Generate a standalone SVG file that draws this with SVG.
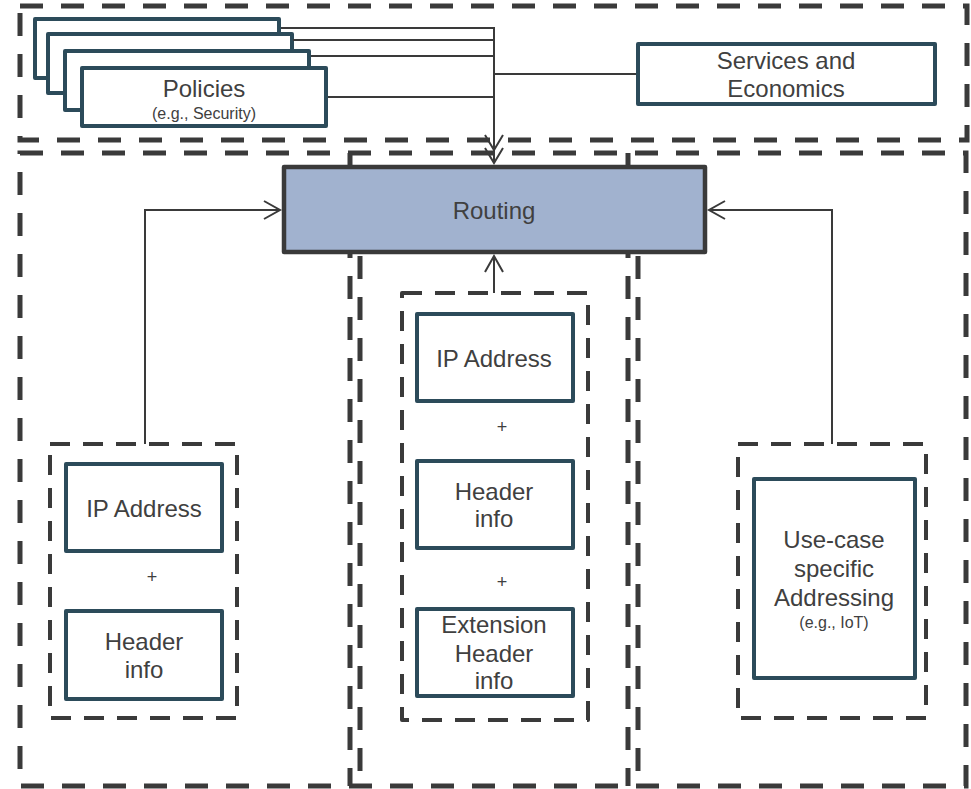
<svg xmlns="http://www.w3.org/2000/svg" width="971" height="789" viewBox="0 0 971 789">
<style>
.big{fill:none;stroke:#3a3a3a;stroke-width:5;stroke-dasharray:23 18}
.inner{fill:none;stroke:#3a3a3a;stroke-width:4;stroke-dasharray:20 13;stroke-linejoin:round}
.box{fill:#fff;stroke:#2c4b5a;stroke-width:4;stroke-linejoin:round}
.conn{fill:none;stroke:#3a3a3a;stroke-width:2}
text{font-family:"Liberation Sans",Arial,sans-serif;fill:#404040;text-anchor:middle}
.t{font-size:24px}
.s{font-size:16px}
.p{font-size:18px}
</style>
<rect width="971" height="789" fill="#fff"/>
<g id="frames">
<rect class="big" x="20" y="6" width="947" height="134"/>
<rect class="big" x="20" y="153" width="946" height="633"/>
<line class="big" x1="350" y1="153" x2="350" y2="786"/>
<line class="big" x1="360" y1="256" x2="360" y2="786"/>
<line class="big" x1="628" y1="153" x2="628" y2="786"/>
<line class="big" x1="638" y1="256" x2="638" y2="786"/>
</g>
<g id="policies">
<rect class="box" x="35" y="19" width="244" height="59"/>
<rect class="box" x="48" y="34" width="244" height="59"/>
<rect class="box" x="65" y="51" width="244" height="59"/>
<rect class="box" x="82" y="68" width="244" height="58"/>
<text class="t" x="204" y="97">Policies</text>
<text class="s" x="204" y="119">(e.g., Security)</text>
</g>
<g id="services">
<rect class="box" x="638" y="44" width="297" height="60"/>
<text class="t" x="786" y="69">Services and</text>
<text class="t" x="786" y="97">Economics</text>
</g>
<g id="connectors">
<polyline class="conn" points="281,28 494,28 494,163"/>
<line class="conn" x1="293" y1="40" x2="494" y2="40"/>
<line class="conn" x1="311" y1="56" x2="494" y2="56"/>
<line class="conn" x1="328" y1="97" x2="494" y2="97"/>
<line class="conn" x1="494" y1="74" x2="636" y2="74"/>
<polyline class="conn" points="485,135 494,150 503,135"/>
<polyline class="conn" points="485,148 494,163 503,148"/>
<polyline class="conn" points="145,444 145,210 280,210"/>
<polyline class="conn" points="264,201 280,210 264,219"/>
<polyline class="conn" points="832,444 832,210 709,210"/>
<polyline class="conn" points="725,201 709,210 725,219"/>
<line class="conn" x1="494" y1="293" x2="494" y2="256"/>
<polyline class="conn" points="485,272 494,256 503,272"/>
</g>
<g id="routing">
<rect x="284" y="167" width="421" height="85" fill="#a1b2cf" stroke="#3a3a3a" stroke-width="4.5" stroke-linejoin="round"/>
<text class="t" x="494" y="219">Routing</text>
</g>
<g id="left-group">
<rect class="inner" x="50" y="444" width="187" height="274"/>
<rect class="box" x="66" y="464" width="156" height="87"/>
<text class="t" x="144" y="517">IP Address</text>
<text class="p" x="152" y="583">+</text>
<rect class="box" x="66" y="611" width="156" height="88"/>
<text class="t" x="144" y="650">Header</text>
<text class="t" x="144" y="678">info</text>
</g>
<g id="middle-group">
<rect class="inner" x="402" y="293" width="186" height="427"/>
<rect class="box" x="417" y="314" width="156" height="87"/>
<text class="t" x="494" y="367">IP Address</text>
<text class="p" x="502" y="433">+</text>
<rect class="box" x="417" y="461" width="156" height="87"/>
<text class="t" x="494" y="500">Header</text>
<text class="t" x="494" y="527">info</text>
<text class="p" x="502" y="588">+</text>
<rect class="box" x="417" y="609" width="156" height="87"/>
<text class="t" x="494" y="633">Extension</text>
<text class="t" x="494" y="662">Header</text>
<text class="t" x="494" y="689">info</text>
</g>
<g id="right-group">
<rect class="inner" x="738" y="444" width="188" height="274"/>
<rect class="box" x="754" y="479" width="161" height="199"/>
<text class="t" x="834" y="548">Use-case</text>
<text class="t" x="834" y="577">specific</text>
<text class="t" x="834" y="606">Addressing</text>
<text class="s" x="834" y="628">(e.g., IoT)</text>
</g>
</svg>
